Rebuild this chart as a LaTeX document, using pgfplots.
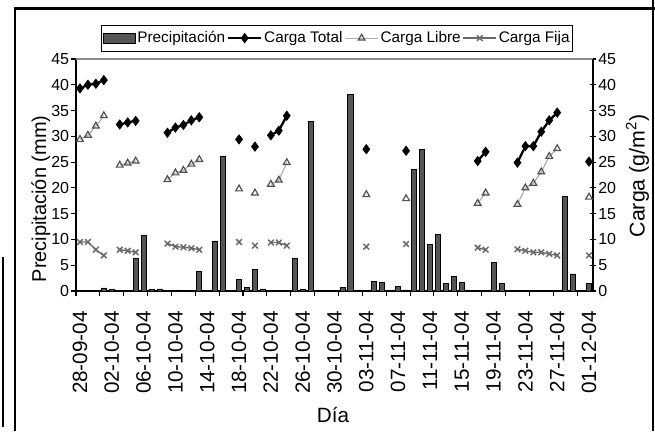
\documentclass[border=0pt]{standalone}
\usepackage{fontspec}
\setmainfont{Liberation Sans}
\usepackage{pgfplots}
\pgfplotsset{compat=1.18}
\definecolor{barfill}{RGB}{85,85,85}
\definecolor{libreline}{RGB}{175,175,175}
\definecolor{libremark}{RGB}{80,80,80}
\definecolor{fijacol}{RGB}{105,105,105}
\definecolor{bordergray}{RGB}{140,140,140}
\pgfplotsset{
  barleg/.style={legend image code/.code={\draw[##1] (0pt,-3.6pt) rectangle (24pt,3.6pt);}},
  lineleg/.style={legend image code/.code={\draw[mark repeat=2,mark phase=2,##1] plot coordinates {(0pt,0pt) (12.5pt,0pt) (25pt,0pt)};}},
}
\begin{document}
\begin{tikzpicture}
\path[use as bounding box] (0pt,0pt) rectangle (491.25pt,323.25pt);
% outer frame
\draw[line width=2.2pt] (10.5pt,317pt) -- (491.25pt,317pt);
\draw[line width=1.5pt] (11.25pt,318pt) -- (11.25pt,0pt);
\draw[line width=1.5pt] (489.75pt,323.25pt) -- (489.75pt,0pt);
\draw[line width=1.5pt] (2.25pt,130.5pt) -- (2.25pt,3pt);

\begin{axis}[
  at={(57pt,105pt)}, anchor=south west,
  width=387.75pt, height=174pt, scale only axis,
  xmin=-0.5, xmax=64.5, ymin=0, ymax=45,
  axis x line*=bottom, axis y line*=left,
  axis line style={black, line width=0.8pt},
  tick align=outside, major tick length=3.5pt,
  tick style={black, line width=0.8pt},
  xtick={-0.5,2.5,...,62.5}, xticklabels={},
  extra x ticks={0,4,...,64},
  extra x tick labels={28-09-04,02-10-04,06-10-04,10-10-04,14-10-04,18-10-04,22-10-04,26-10-04,30-10-04,03-11-04,07-11-04,11-11-04,15-11-04,19-11-04,23-11-04,27-11-04,01-12-04},
  extra x tick style={major tick length=0pt},
  xticklabel style={rotate=90, anchor=east, inner sep=0pt, font=\fontsize{15.5}{18}\selectfont},
  xticklabel shift=15pt,
  ytick={0,5,...,45},
  yticklabel style={font=\fontsize{12}{14}\selectfont, inner sep=1.5pt},
  /pgf/number format/assume math mode=true,
  ybar, bar width=3.8pt,
  xlabel={Día},
  xlabel style={at={(axis description cs:0.497,-0.534)}, anchor=center, font=\fontsize{15.5}{18}\selectfont},
  ylabel={Precipitación (mm)},
  ylabel style={at={(axis description cs:-0.068,0.397)}, anchor=center, font=\fontsize{15}{18}\selectfont},
]
\addplot[fill=barfill, draw=black, line width=0.6pt] coordinates {
(3,0.6) (4,0.3) (7,6.4) (8,10.8) (9,0.3) (10,0.4) (12,0.2) (15,3.8) (16,0.15) (17,9.7) (18,26.2)
(20,2.3) (21,0.7) (22,4.1) (23,0.4) (27,6.3) (28,0.35) (29,32.8) (33,0.7) (34,38.2) (35,0.2)
(37,1.8) (38,1.6) (40,0.9) (41,0.2) (42,23.6) (43,27.5) (44,9.0) (45,11.0) (46,1.5) (47,2.8)
(48,1.6) (52,5.6) (53,1.5) (61,18.4) (62,3.3) (64,1.5)
};
\end{axis}

\begin{axis}[
  at={(57pt,105pt)}, anchor=south west,
  width=387.75pt, height=174pt, scale only axis,
  xmin=-0.5, xmax=64.5, ymin=0, ymax=45,
  axis x line*=top, axis y line*=right,
  x axis line style={bordergray, line width=0.8pt},
  y axis line style={black, line width=0.8pt},
  xtick=\empty,
  ytick={0,5,...,45},
  tick align=center, major tick length=4.5pt,
  tick style={black, line width=0.8pt},
  yticklabel style={font=\fontsize{12}{14}\selectfont, inner sep=1.5pt},
  /pgf/number format/assume math mode=true,
  unbounded coords=jump,
  ylabel={Carga (g/m\textsuperscript{2})},
  ylabel style={at={(axis description cs:1.086,0.496)}, anchor=center, rotate=0, font=\fontsize{16}{18}\selectfont},
  legend style={at={(axis description cs:0.505,1.09)}, anchor=center, draw=black, line width=0.6pt,
    font=\fontsize{11.5}{13}\selectfont, inner xsep=1pt, inner ysep=3.5pt,
    nodes={inner sep=1.3pt}},
  legend columns=-1,
  legend cell align=left,
  lineleg,
]
\addlegendimage{fill=barfill, draw=black, line width=0.6pt, barleg}
\addlegendentry{Precipitación}
\addplot[black, line width=1.7pt, mark=diamond*, mark size=3.5pt, mark options={solid, fill=black, line width=0.5pt}] coordinates {
(0,39.3)(1,40.0)(2,40.2)(3,40.9)(4,nan)(5,32.3)(6,32.7)(7,33.0)(8,nan)
(11,30.7)(12,31.7)(13,32.2)(14,33.1)(15,33.7)(16,nan)(20,29.4)(21,nan)(22,28.0)(23,nan)
(24,30.2)(25,31.1)(26,34.0)(27,nan)(36,27.5)(37,nan)(41,27.2)(42,nan)(50,25.2)(51,27.0)(52,nan)
(55,24.9)(56,28.1)(57,28.1)(58,30.9)(59,33.1)(60,34.6)(61,nan)(64,25.1)
};
\addlegendentry{Carga Total}
\addplot[libreline, line width=0.9pt, mark=triangle, mark size=2.9pt, mark options={solid, draw=libremark, fill=white, line width=0.9pt}] coordinates {
(0,29.4)(1,30.2)(2,32.0)(3,34.0)(4,nan)(5,24.4)(6,24.8)(7,25.2)(8,nan)
(11,21.6)(12,22.9)(13,23.4)(14,24.6)(15,25.5)(16,nan)(20,19.8)(21,nan)(22,19.0)(23,nan)
(24,20.7)(25,21.5)(26,24.9)(27,nan)(36,18.7)(37,nan)(41,17.9)(42,nan)(50,17.0)(51,19.0)(52,nan)
(55,16.8)(56,20.0)(57,20.9)(58,23.1)(59,26.1)(60,27.6)(61,nan)(64,18.2)
};
\addlegendentry{Carga Libre}
\addplot[fijacol, line width=1pt, mark=x, mark size=3pt, mark options={solid, line width=1.1pt}] coordinates {
(0,9.5)(1,9.5)(2,8.0)(3,6.9)(4,nan)(5,8.0)(6,7.8)(7,7.5)(8,nan)
(11,9.2)(12,8.6)(13,8.5)(14,8.3)(15,8.0)(16,nan)(20,9.5)(21,nan)(22,8.8)(23,nan)
(24,9.4)(25,9.4)(26,8.8)(27,nan)(36,8.6)(37,nan)(41,9.1)(42,nan)(50,8.4)(51,8.0)(52,nan)
(55,8.1)(56,7.8)(57,7.5)(58,7.5)(59,7.2)(60,6.9)(61,nan)(64,6.9)
};
\addlegendentry{Carga Fija}
\end{axis}
\end{tikzpicture}
\end{document}
